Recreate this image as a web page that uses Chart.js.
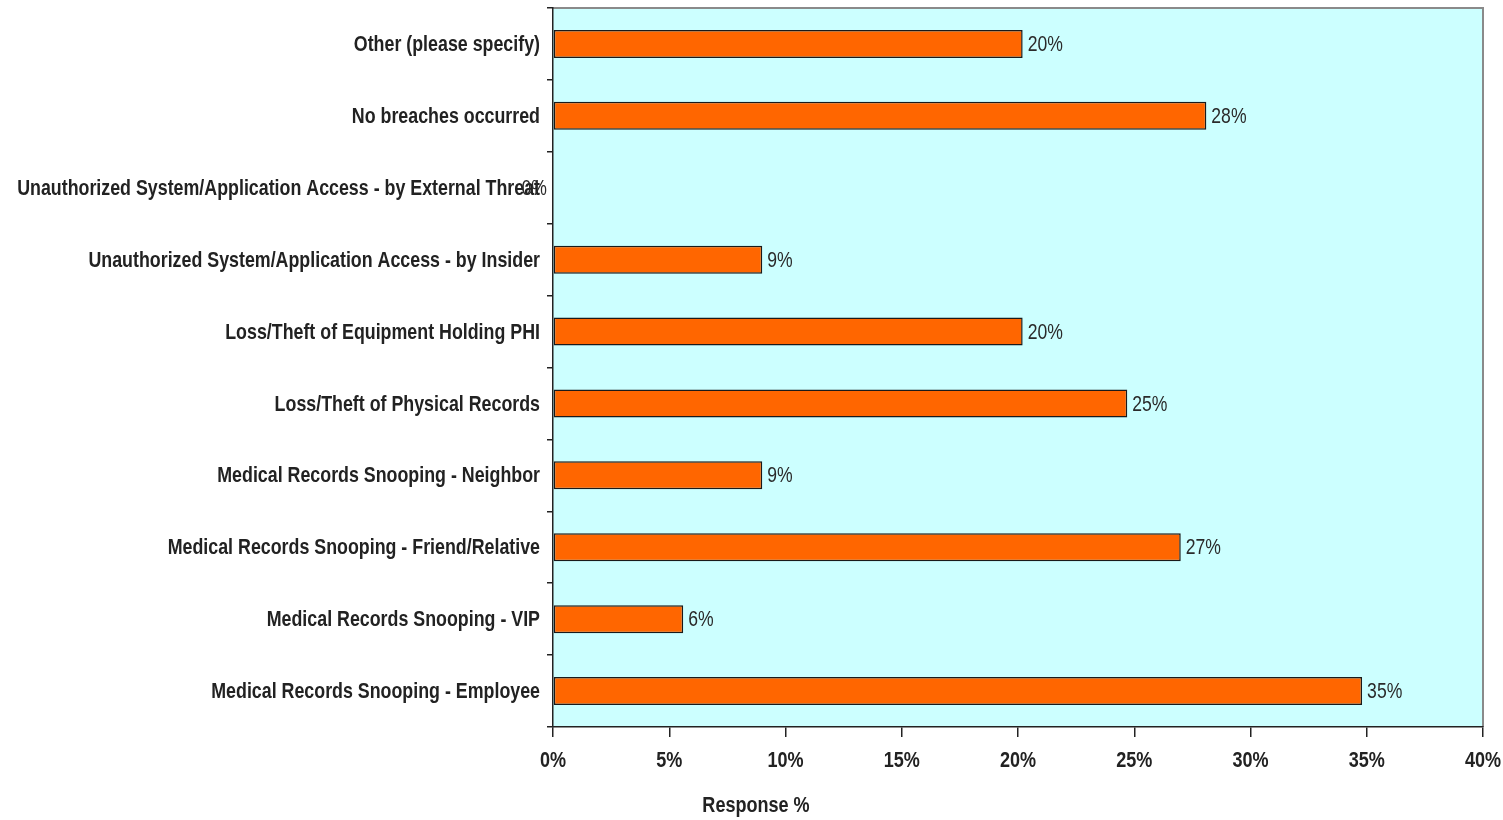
<!DOCTYPE html>
<html>
<head>
<meta charset="utf-8">
<script src="https://cdn.jsdelivr.net/npm/chart.js@4.4.1/dist/chart.umd.min.js"></script>
<style>
  html, body { margin: 0; padding: 0; background: #fff; }
  #wrap { width: 1503px; height: 820px; }
</style>
</head>
<body>
<div id="wrap"><canvas id="graph-canvas" width="1503" height="820"></canvas></div>
<script>
// breach types, top to bottom as shown
let categories = [
  'Other (please specify)',
  'No breaches occurred',
  'Unauthorized System/Application Access - by External Threat',
  'Unauthorized System/Application Access - by Insider',
  'Loss/Theft of Equipment Holding PHI',
  'Loss/Theft of Physical Records',
  'Medical Records Snooping - Neighbor',
  'Medical Records Snooping - Friend/Relative',
  'Medical Records Snooping - VIP',
  'Medical Records Snooping - Employee'
];
let responses = [20.2, 28.1, 0, 9.0, 20.2, 24.7, 9.0, 27.0, 5.6, 34.8];
let xTicks = [0, 5, 10, 15, 20, 25, 30, 35, 40];
let xTitle = 'Response %';

let baseFont = '"Liberation Sans", Arial, sans-serif';

// the original uses a narrow face; squeeze Liberation Sans horizontally
function narrowText(ctx, txt, x, y, align, font, sx) {
  ctx.save();
  ctx.font = font;
  ctx.textAlign = align;
  ctx.textBaseline = 'middle';
  ctx.translate(x, y);
  ctx.scale(sx, 1);
  ctx.fillText(txt, 0, 0);
  ctx.restore();
}

// cyan plot background + grey frame on top/right
let plotBg = {
  id: 'plotBg',
  beforeDraw(chart) {
    let a = chart.chartArea, ctx = chart.ctx;
    ctx.save();
    ctx.fillStyle = '#CCFFFF';
    ctx.fillRect(a.left, a.top, a.right - a.left, a.bottom - a.top);
    ctx.strokeStyle = '#8a8a8a';
    ctx.lineWidth = 2;
    ctx.beginPath();
    ctx.moveTo(a.left, a.top);
    ctx.lineTo(a.right, a.top);
    ctx.lineTo(a.right, a.bottom);
    ctx.stroke();
    ctx.restore();
  }
};

// all the text: category labels, x ticks, axis title, bar values
let textLayer = {
  id: 'textLayer',
  afterDraw(chart) {
    let ctx = chart.ctx;
    let xs = chart.scales.x, ys = chart.scales.y;
    ctx.save();
    ctx.fillStyle = '#222';
    categories.forEach(function (c, i) {
      narrowText(ctx, c, xs.left - 13, ys.getPixelForValue(i) + 1, 'right', 'bold 22px ' + baseFont, 0.81);
    });
    xTicks.forEach(function (t) {
      narrowText(ctx, t + '%', xs.getPixelForValue(t), 761, 'center', 'bold 22px ' + baseFont, 0.82);
    });
    // title sits left of the plot centre in the original
    narrowText(ctx, xTitle, xs.left + 203, 806, 'center', 'bold 22px ' + baseFont, 0.82);

    ctx.fillStyle = '#2a2a2a';
    let meta = chart.getDatasetMeta(0);
    meta.data.forEach(function (bar, i) {
      let v = responses[i];
      let txt = Math.round(v) + '%';
      if (v === 0) {
        narrowText(ctx, txt, bar.x - 6, bar.y + 1, 'right', '22px ' + baseFont, 0.8);
      } else {
        narrowText(ctx, txt, bar.x + 5, bar.y + 1, 'left', '22px ' + baseFont, 0.8);
      }
    });
    ctx.restore();
  }
};

let chartdata = {
  labels: categories,
  datasets: [
    {
      label: xTitle,
      backgroundColor: '#FF6600',
      borderColor: '#1a1a1a',
      borderWidth: 1.5,
      borderSkipped: false,
      barPercentage: 0.39,
      categoryPercentage: 1,
      data: responses
    }
  ]
};

new Chart(document.getElementById('graph-canvas'), {
  type: 'bar',
  data: chartdata,
  plugins: [plotBg, textLayer],
  options: {
    indexAxis: 'y',
    responsive: false,
    animation: false,
    devicePixelRatio: 1,
    layout: { padding: { top: 8, right: 20, bottom: 0, left: 0 } },
    plugins: {
      legend: { display: false },
      tooltip: { enabled: false }
    },
    scales: {
      y: {
        afterFit(scale) { scale.width = 553; },
        border: { display: true, color: '#222', width: 1.5 },
        grid: { display: true, drawOnChartArea: false, offset: true, tickLength: 6, color: '#222', lineWidth: 1.5 },
        ticks: { display: false, autoSkip: false }
      },
      x: {
        min: 0,
        max: 40,
        afterFit(scale) { scale.height = 93; },
        afterBuildTicks(scale) { scale.ticks = xTicks.map(v => ({ value: v })); },
        border: { display: true, color: '#222', width: 1.5 },
        grid: { display: true, drawOnChartArea: false, tickLength: 10, color: '#222', lineWidth: 1.5 },
        ticks: { display: false }
      }
    }
  }
});
</script>
</body>
</html>
